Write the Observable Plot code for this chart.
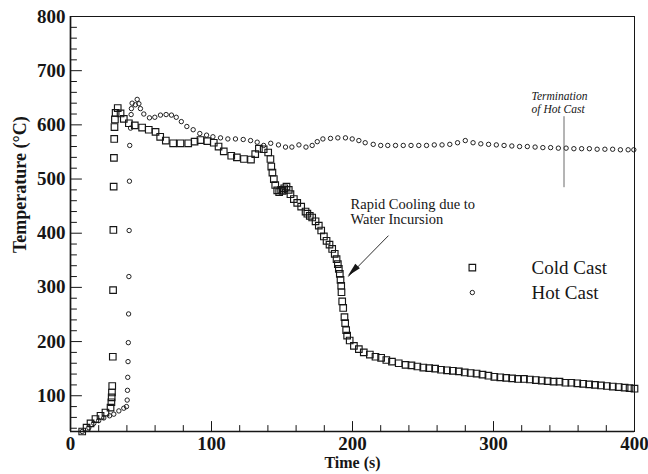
<!DOCTYPE html>
<html><head><meta charset="utf-8">
<script src="https://cdn.jsdelivr.net/npm/d3@7"></script>
<script src="https://cdn.jsdelivr.net/npm/@observablehq/plot@0.6"></script>
<style>body{margin:0;background:#fff} svg{display:block}</style>
</head><body><div id="chart"></div>
<script>
// ---- data ----
const coldTime = [8.3,11.4,14.2,17.7,21.3,24.8,28.4,29.0,29.2,29.4,29.6,30.0,30.2,30.4,30.6,30.8,31.0,31.2,31.5,32.0,33.5,35.5,37.8,41.4,45.6,50.8,55.5,60.3,63.6,67.6,72.8,78.0,83.5,88.0,92.2,97.0,101.6,105.0,108.7,114.0,118.0,123.0,128.0,131.0,133.6,137.0,140.2,141.8,142.4,143.2,144.2,145.2,146.6,148.0,149.4,150.5,151.6,153.2,154.8,156.0,158.4,160.8,163.6,166.7,168.0,169.7,171.4,173.8,176.1,177.8,179.7,181.6,183.7,185.6,187.4,188.7,189.6,190.3,191.0,191.5,192.0,192.2,192.7,193.4,194.3,194.8,195.5,196.2,198.0,201.0,204.5,208.0,212.3,216.3,220.3,224.0,228.0,232.8,237.6,241.8,246,250.2,254.4,258.6,262.8,267,271.2,275.4,279.6,283.8,288,292.2,296.4,300.6,304.8,309,313.2,317.4,321.6,325.8,330,334.2,338.4,342.6,346.8,351,355.2,359.4,363.6,367.8,372,376.2,380.4,384.6,388.8,393,396.5,400];
const coldTemp = [34,41,49,57,63,69,78,88,97,106,118,172,295,406,486,539,574,596,610,622,631,621,611,603,599,595,591,587,578,571,566,566,566,569,572,570,567,560,551,543,540,537,536,546,556,555,549,537,523,512,500,489,479,476,480,478,483,486,480,472,463,456,449,440,436,432,429,422,414,405,394,386,379,371,362,352,343,334,325,314,303,291,274,262,245,234,221,211,202,192,186,180,176,172,170,166,163,160,157,156,154,152,151,150,148,147,146,145,143,142,141,139,137,135,134,133,132,131,131,130,129,128,127,126,126,124,124,123,122,121,120,119,118,117,116,115,114,113];
const hotTime = [8.3,13,16.5,20,23.6,27.7,30.7,34.3,37.8,39.7,40.2,40.4,40.6,40.8,41.0,41.2,41.4,41.6,41.8,42.0,42.6,43.0,43.2,43.7,46,47.3,48.5,49.6,52,56,59.8,63.8,67.8,71.6,75,78.6,82.5,87,91.7,96.5,101,106.4,111.6,117,122.5,127.7,132.4,137,142,147.5,152.5,157,162,167,171.4,175,179,184.4,189.6,195,199.8,204.5,209,214.7,220,225,230.5,236,241.5,247,252.5,258,263.5,269,274.5,280,285.5,291,296.5,302,307.5,313,318.5,324,329.5,335,340.5,346,351.5,357,362.5,368,373.5,379,384.5,390,395.5,399.5];
const hotTemp = [34,41,49,54,59,63,66,72,77,80,92,110,134,163,198,251,320,405,496,562,594,619,630,640,637,647,639,630,620,613,614,618,619,618,614,606,597,591,584,581,578,576,574,574,573,571,568,562,566,563,559,559,563,559,562,569,574,575,576,576,574,571,567,564,562,562,562,562,562,562,562,563,563,564,567,571,567,565,564,563,562,561,560,560,559,558,558,557,557,556,556,556,555,555,555,554,554,554];

const seriesNames = ["Cold Cast", "Hot Cast"];
const xTickValues = [0, 100, 200, 300, 400];
const yTickValues = [100, 200, 300, 400, 500, 600, 700, 800];
const xDomain = [0, 400];
const yDomain = [34, 800];

// annotations (data coordinates)
const legendX = 285, legendTextX = 327, legendY = [336.5, 290.5];
const noteCooling = "Rapid Cooling due to\nWater Incursion";
const noteCoolingPos = [198.6, 440];
const arrowFrom = [225.5, 395.5], arrowTo = [197, 320];
const noteTerm = "Termination\nof Hot Cast";
const noteTermPos = [327, 641];
const termRule = {x: 350, y1: 484, y2: 615};

const xMinor = d3.range(20, 400, 20).filter(v => v % 100 !== 0);
const yMinor = d3.range(40, 800, 20).filter(v => v % 100 !== 0);

const serif = "Liberation Serif, Times New Roman, serif";
const ink = "#161616";
const tickLine = {draw(context, l) { context.moveTo(0, 0); context.lineTo(0, -l); }};

const cold = coldTime.map((t, i) => ({t, T: coldTemp[i]}));
const hot = hotTime.map((t, i) => ({t, T: hotTemp[i]}));

const plot = Plot.plot({
  width: 648, height: 474,
  marginLeft: 70, marginRight: 14, marginTop: 16, marginBottom: 43,
  style: {fontFamily: serif, background: "#fff", color: ink},
  x: {domain: xDomain, label: null},
  y: {domain: yDomain, label: null},
  marks: [
    Plot.frame({stroke: ink, strokeWidth: 1}),
    Plot.ruleX([xDomain[0]], {stroke: ink, strokeWidth: 1.7}),
    Plot.ruleY([yDomain[0]], {stroke: ink, strokeWidth: 1.7}),
    Plot.axisX({ticks: xTickValues, tickSize: 0, tickPadding: 5, fontSize: 19, fontWeight: "bold", fontFamily: serif, fill: ink, label: null}),
    Plot.axisY({ticks: yTickValues, tickSize: 0, tickPadding: 5, fontSize: 19, fontWeight: "bold", fontFamily: serif, fill: ink, label: null}),
    Plot.vector(xTickValues, {x: d => d, frameAnchor: "bottom", length: 10, rotate: 0, anchor: "start", shape: tickLine, stroke: ink, strokeWidth: 1}),
    Plot.vector(xMinor, {x: d => d, frameAnchor: "bottom", length: 6, rotate: 0, anchor: "start", shape: tickLine, stroke: ink, strokeWidth: 1}),
    Plot.vector(yTickValues, {y: d => d, frameAnchor: "left", length: 11, rotate: 90, anchor: "start", shape: tickLine, stroke: ink, strokeWidth: 1}),
    Plot.vector(yMinor, {y: d => d, frameAnchor: "left", length: 6, rotate: 90, anchor: "start", shape: tickLine, stroke: ink, strokeWidth: 1}),
    Plot.text(["Time (s)"], {frameAnchor: "bottom", dy: 36.5, fontSize: 16, fontWeight: "bold", fontFamily: serif, fill: ink}),
    Plot.text(["Temperature (°C)"], {frameAnchor: "left", dx: -50, dy: 29, rotate: -90, fontSize: 18, fontWeight: "bold", fontFamily: serif, fill: ink, ariaLabel: "ytitle"}),
    // data
    Plot.dot(hot, {x: "t", y: "T", symbol: "circle", r: 2.2, stroke: ink, strokeWidth: 0.95, fill: "none"}),
    Plot.dot(cold, {x: "t", y: "T", symbol: "square", r: 3.7, stroke: ink, strokeWidth: 1.15, fill: "none"}),
    // legend
    Plot.dot([0], {x: () => legendX, y: () => legendY[0], symbol: "square", r: 3.7, stroke: ink, strokeWidth: 1.15, fill: "none"}),
    Plot.dot([0], {x: () => legendX, y: () => legendY[1], symbol: "circle", r: 2.2, stroke: ink, strokeWidth: 0.95, fill: "none"}),
    Plot.text(seriesNames, {x: () => legendTextX, y: (d, i) => legendY[i], textAnchor: "start", fontSize: 19, fontFamily: serif, fill: ink}),
    // annotations
    Plot.text([noteCooling], {x: () => noteCoolingPos[0], y: () => noteCoolingPos[1], textAnchor: "start", fontSize: 14.5, lineHeight: 1.05, fontFamily: serif, fill: ink}),
    Plot.link([0], {x1: () => arrowFrom[0], y1: () => arrowFrom[1], x2: () => arrowTo[0], y2: () => arrowTo[1], stroke: ink, strokeWidth: 0.9}),
    Plot.text([noteTerm], {x: () => noteTermPos[0], y: () => noteTermPos[1], textAnchor: "start", fontSize: 11.5, lineHeight: 1.05, fontStyle: "italic", fontFamily: serif, fill: ink}),
    Plot.ruleX([termRule.x], {y1: termRule.y1, y2: termRule.y2, stroke: "#444", strokeWidth: 0.8})
  ]
});

// stretch the y title like the reference and draw a filled arrowhead using the plot's scales
d3.select(plot).select('g[aria-label="ytitle"] text')
  .attr("textLength", 204).attr("lengthAdjust", "spacingAndGlyphs");

const sx = plot.scale("x"), sy = plot.scale("y");
const p0 = [sx.apply(arrowFrom[0]), sy.apply(arrowFrom[1])];
const p1 = [sx.apply(arrowTo[0]), sy.apply(arrowTo[1])];
const dxp = p1[0] - p0[0], dyp = p1[1] - p0[1];
const len = Math.hypot(dxp, dyp), ux = dxp / len, uy = dyp / len;
const hl = 14, hw = 3.2;
const bx = p1[0] - ux * hl, by = p1[1] - uy * hl;
d3.select(plot).append("path")
  .attr("d", `M${p1[0]},${p1[1]}L${bx - uy * hw},${by + ux * hw}L${bx + uy * hw},${by - ux * hw}Z`)
  .attr("fill", ink);

document.getElementById("chart").appendChild(plot);
</script>
</body></html>
